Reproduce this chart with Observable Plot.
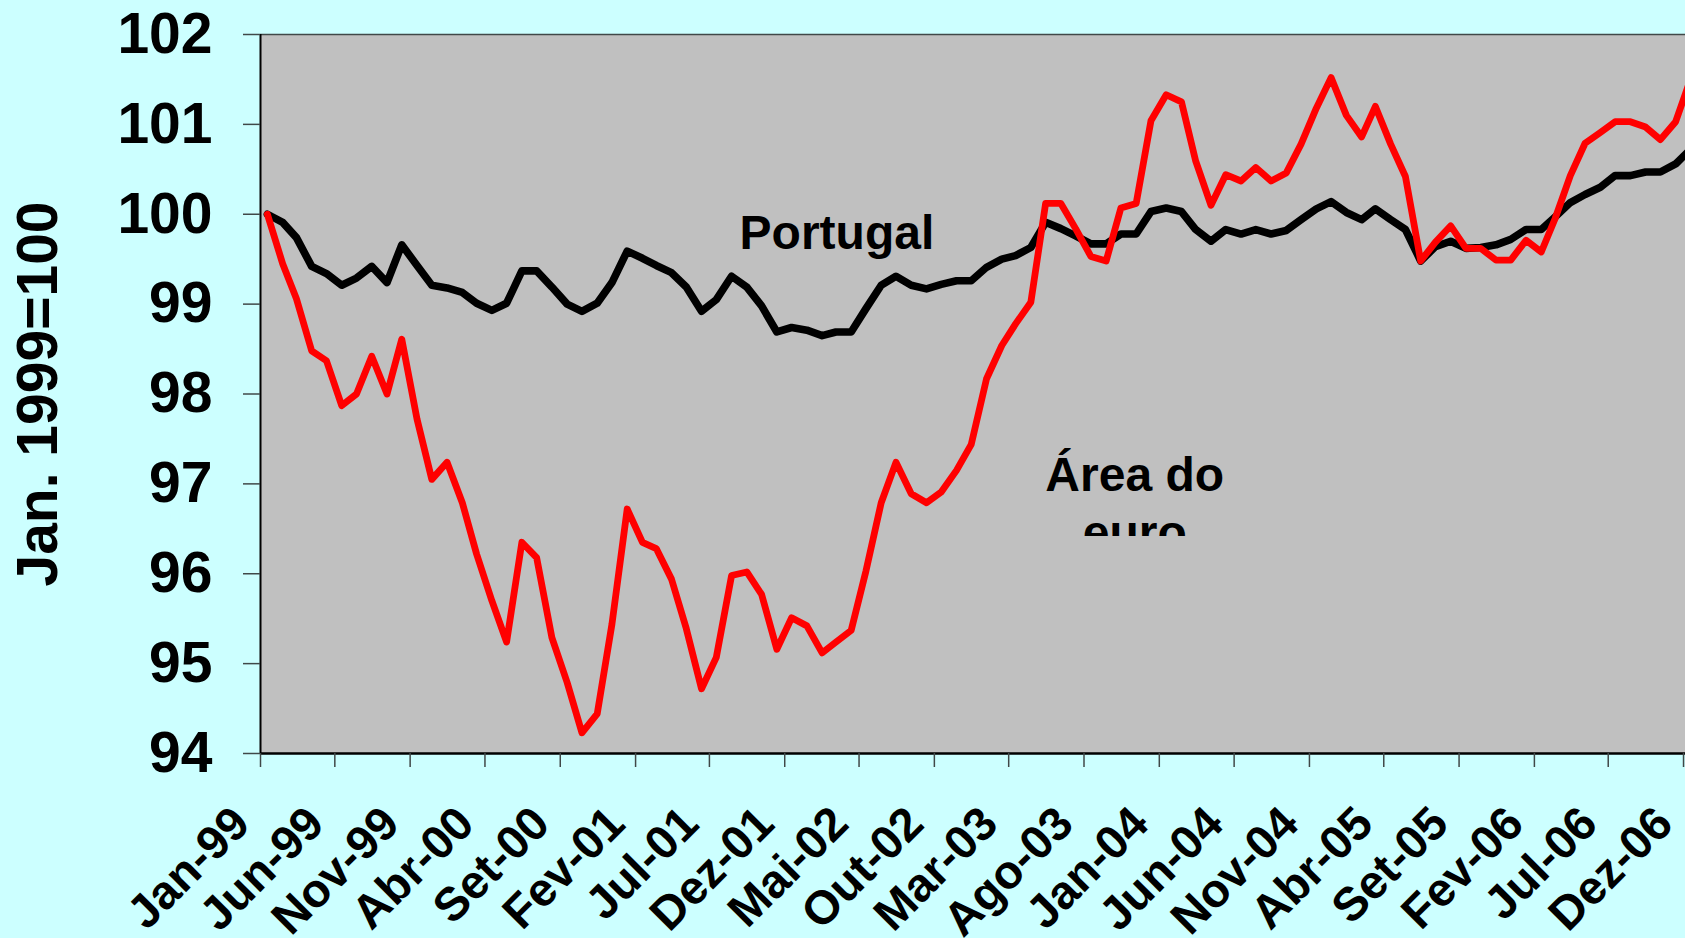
<!DOCTYPE html>
<html>
<head>
<meta charset="utf-8">
<script src="https://cdn.jsdelivr.net/npm/d3@7"></script>
<script src="https://cdn.jsdelivr.net/npm/@observablehq/plot@0.6"></script>
<style>
html, body { margin: 0; padding: 0; background: #CCFFFF; overflow: hidden; }
#chart svg { display: block; }
</style>
</head>
<body>
<div id="chart"></div>
<script>
// Monthly index, Jan. 1999 = 100 (Jan-99 ... Dez-06)
const portugal = [
  100.00, 99.91, 99.74, 99.42, 99.34, 99.21, 99.29, 99.42, 99.24, 99.66,
  99.43, 99.21, 99.18, 99.13, 99.01, 98.93, 99.01, 99.37, 99.37, 99.19,
  99.00, 98.92, 99.01, 99.24, 99.59, 99.51, 99.43, 99.35, 99.19, 98.92,
  99.05, 99.31, 99.19, 98.98, 98.69, 98.74, 98.71, 98.65, 98.69, 98.69,
  98.95, 99.21, 99.31, 99.21, 99.17, 99.22, 99.26, 99.26, 99.41, 99.50,
  99.54, 99.63, 99.91, 99.84, 99.76, 99.67, 99.67, 99.78, 99.78, 100.03,
  100.07, 100.03, 99.83, 99.70, 99.83, 99.78, 99.83, 99.78, 99.82, 99.94,
  100.06, 100.14, 100.02, 99.94, 100.06, 99.94, 99.83, 99.48, 99.64, 99.70,
  99.62, 99.63, 99.66, 99.72, 99.83, 99.83, 99.97, 100.13, 100.22, 100.30,
  100.43, 100.43, 100.47, 100.47, 100.56, 100.72
];
const areaEuro = [
  100.00, 99.45, 99.06, 98.48, 98.37, 97.87, 98.00, 98.42, 98.00, 98.61,
  97.72, 97.05, 97.24, 96.79, 96.22, 95.70, 95.24, 96.35, 96.18, 95.29,
  94.79, 94.23, 94.44, 95.44, 96.72, 96.35, 96.28, 95.94, 95.39, 94.72,
  95.07, 95.98, 96.02, 95.77, 95.16, 95.51, 95.42, 95.12, 95.24, 95.37,
  96.03, 96.79, 97.24, 96.89, 96.79, 96.91, 97.15, 97.44, 98.17, 98.54,
  98.78, 99.02, 100.12, 100.12, 99.84, 99.53, 99.48, 100.07, 100.12, 101.04,
  101.33, 101.25, 100.59, 100.10, 100.44, 100.37, 100.52, 100.37, 100.46, 100.78,
  101.18, 101.52, 101.10, 100.86, 101.20, 100.78, 100.42, 99.48, 99.69, 99.87,
  99.62, 99.62, 99.49, 99.49, 99.71, 99.58, 99.95, 100.43, 100.79, 100.91,
  101.03, 101.03, 100.97, 100.83, 101.03, 101.50
];
const xTickLabels = [
  "Jan-99", "Jun-99", "Nov-99", "Abr-00", "Set-00", "Fev-01", "Jul-01", "Dez-01",
  "Mai-02", "Out-02", "Mar-03", "Ago-03", "Jan-04", "Jun-04", "Nov-04", "Abr-05",
  "Set-05", "Fev-06", "Jul-06", "Dez-06"
];
const yTicks = [94, 95, 96, 97, 98, 99, 100, 101, 102];
const yTitle = "Jan. 1999=100";
const seriesLabels = [
  {label: "Portugal", date: new Date(Date.UTC(2002, 2, 17)), value: 99.78},
  {label: "Área do\neuro", date: new Date(Date.UTC(2003, 10, 12)), value: 97.375}
];

const months = portugal.map((_, i) => new Date(Date.UTC(1999, i, 15)));
const rows = months.map((date, i) => ({date, portugal: portugal[i], euro: areaEuro[i]}));
const tickDates = xTickLabels.map((_, k) => new Date(Date.UTC(1999, 5 * k, 1)));
const labelOf = new Map(tickDates.map((d, k) => [+d, xTickLabels[k]]));
const xDomain = [new Date(Date.UTC(1999, 0, 1)), new Date(Date.UTC(2006, 11, 5))];

const FONT = "'Liberation Sans', Arial, Helvetica, sans-serif";
const TICK = "#404848";

const chart = Plot.plot({
  width: 1685,
  height: 938,
  marginLeft: 260,
  marginRight: 0,
  marginTop: 34,
  marginBottom: 185,
  style: {background: "#CCFFFF", fontFamily: FONT, fontWeight: "bold", color: "black"},
  x: {type: "utc", domain: xDomain},
  y: {domain: [94, 102]},
  marks: [
    Plot.frame({fill: "#C0C0C0", stroke: null}),
    Plot.ruleY([102], {stroke: TICK, strokeWidth: 1.5}),
    Plot.lineY(rows, {x: "date", y: "portugal", stroke: "black", strokeWidth: 7.6, strokeLinejoin: "round", clip: true}),
    Plot.lineY(rows, {x: "date", y: "euro", stroke: "#FF0000", strokeWidth: 6.8, strokeLinejoin: "round", clip: true}),
    Plot.ruleX([xDomain[0]], {stroke: "black", strokeWidth: 2}),
    Plot.ruleY([94], {stroke: "black", strokeWidth: 2.5}),
    Plot.axisY({ticks: yTicks, tickSize: 17, tickPadding: 31, fontSize: 57, stroke: TICK, strokeWidth: 1.5, label: null, tickFormat: d => String(d)}),
    Plot.axisX({ticks: tickDates, tickSize: 14, tickFormat: () => "", stroke: TICK, strokeWidth: 1.5, label: null}),
    Plot.axisX({ticks: tickDates, tickSize: 0, tickPadding: 62, tickRotate: -45, textAnchor: "end", lineAnchor: "middle", dx: -19, fontSize: 47, tickFormat: d => labelOf.get(+d), label: null}),
    Plot.text([yTitle], {frameAnchor: "left", rotate: -90, dx: -222, fontSize: 57, lineAnchor: "middle", textAnchor: "middle"}),
    Plot.text([seriesLabels[0]], {x: "date", y: "value", text: "label", fontSize: 48, textAnchor: "middle"}),
    Plot.text([seriesLabels[1]], {x: "date", y: "value", text: "label", fontSize: 48, textAnchor: "middle", lineAnchor: "top", lineHeight: 1.21})
  ]
});

// the "Área do euro" text box is cut off in the original: clip it
const svg = d3.select(chart);
const clipId = "euro-label-clip";
const yClip = chart.scale("y").apply(96.42);
svg.append("defs").append("clipPath").attr("id", clipId)
  .append("rect").attr("x", 0).attr("y", 0).attr("width", 1685).attr("height", yClip);
svg.selectAll("text")
  .filter(function () { return this.textContent.startsWith("Área"); })
  .each(function () { d3.select(this.parentNode).attr("clip-path", `url(#${clipId})`); });

document.getElementById("chart").appendChild(chart);
</script>
</body>
</html>
